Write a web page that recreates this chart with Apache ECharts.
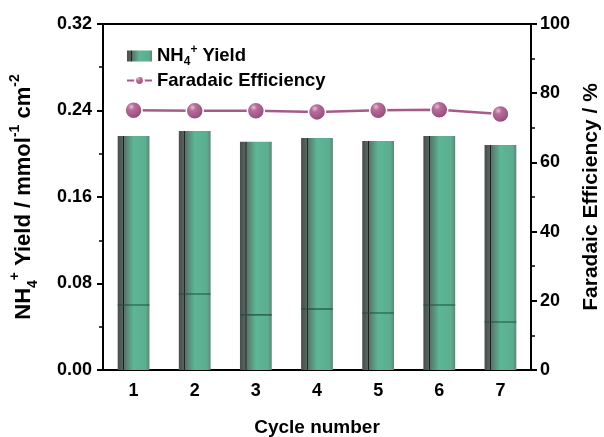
<!DOCTYPE html>
<html>
<head>
<meta charset="utf-8">
<script src="https://cdn.jsdelivr.net/npm/echarts@6/dist/echarts.min.js"></script>
<style>
  html, body { margin: 0; padding: 0; background: #fff; }
  #chart { width: 604px; height: 437px; }
</style>
</head>
<body>
<div id="chart"></div>
<script>
// Cycling stability: NH4+ yield (bars) and Faradaic efficiency (line)
const cycles = ['1', '2', '3', '4', '5', '6', '7'];
const yieldValues = [0.2165, 0.2210, 0.2110, 0.2145, 0.2118, 0.2165, 0.2080];
const yieldInnerLevel = [0.0601, 0.0703, 0.0509, 0.0564, 0.0527, 0.0601, 0.0444];
const feValues = [75.1, 74.9, 74.9, 74.6, 75.1, 75.2, 74.0];
const yieldTicks = [0, 0.08, 0.16, 0.24, 0.32];
const feTicks = [0, 20, 40, 60, 80, 100];

const FONT = '"Liberation Sans", Arial, sans-serif';
const BAR_FRACTION = 0.52;

const barGradient = new echarts.graphic.LinearGradient(0, 0, 1, 0, [
  { offset: 0, color: '#4a4c4c' },
  { offset: 0.17, color: '#566660' },
  { offset: 0.18, color: '#1e1e1e' },
  { offset: 0.2, color: '#1e1e1e' },
  { offset: 0.21, color: '#587468' },
  { offset: 0.5, color: '#5db696' },
  { offset: 0.88, color: '#5cae8f' },
  { offset: 1, color: '#5f8577' }
]);

const ballGradient = new echarts.graphic.RadialGradient(0.38, 0.32, 0.75, [
  { offset: 0, color: '#e7bcd6' },
  { offset: 0.25, color: '#b76d9a' },
  { offset: 0.7, color: '#9c5582' },
  { offset: 1, color: '#864170' }
]);

const axisText = { fontFamily: FONT, fontWeight: 'bold', fontSize: 18, color: '#000' };
function richSet(size, small, lh) {
  const base = { fontFamily: FONT, fontWeight: 'bold', color: '#000', lineHeight: lh };
  return {
    n: Object.assign({ fontSize: size, verticalAlign: 'middle' }, base),
    sup: Object.assign({ fontSize: small, verticalAlign: 'top' }, base),
    sub: Object.assign({ fontSize: small, verticalAlign: 'bottom' }, base)
  };
}

const chart = echarts.init(document.getElementById('chart'), null, { renderer: 'canvas' });

chart.setOption({
  animation: false,
  backgroundColor: '#fff',
  grid: {
    left: 103, right: 73, top: 24, bottom: 67,
    containLabel: false,
    outerBoundsMode: 'none',
    show: true, borderColor: '#000', borderWidth: 2
  },
  legend: {
    orient: 'vertical',
    left: 121, top: 39,
    itemWidth: 25, itemHeight: 11, itemGap: 3,
    textStyle: {
      fontFamily: FONT, fontWeight: 'bold', fontSize: 18, color: '#000',
      rich: richSet(18.5, 12, 24)
    },
    data: [
      { name: 'yield', icon: 'rect' },
      { name: 'fe' }
    ],
    formatter: function (name) {
      return name === 'yield'
        ? '{n|NH}{sub|4}{sup|+}{n| Yield}'
        : '{n|Faradaic Efficiency}';
    }
  },
  xAxis: [
    {
      type: 'category',
      data: cycles,
      position: 'bottom',
      name: 'Cycle number',
      nameLocation: 'middle',
      nameGap: 48,
      nameTextStyle: { fontFamily: FONT, fontWeight: 'bold', fontSize: 19, color: '#000' },
      axisLine: { lineStyle: { color: '#000', width: 2 } },
      axisTick: { alignWithLabel: true, length: 6, inside: false, lineStyle: { color: '#000', width: 2 } },
      axisLabel: Object.assign({ margin: 12 }, axisText),
      splitLine: { show: false }
    },
    {
      type: 'category',
      data: cycles,
      position: 'bottom',
      axisLine: { show: false },
      axisTick: { alignWithLabel: false, length: 3, lineStyle: { color: '#000', width: 2 } },
      axisLabel: { show: false },
      splitLine: { show: false }
    }
  ],
  yAxis: [
    {
      type: 'value',
      min: yieldTicks[0], max: yieldTicks[yieldTicks.length - 1], interval: 0.08,
      position: 'left',
      name: '{n|NH}{sub|4}{sup|+}{n| Yield / mmol}{sup|-1}{n| cm}{sup|-2}',
      nameLocation: 'middle',
      nameRotate: 90,
      nameGap: 63,
      nameTextStyle: { rich: richSet(22, 14, 32) },
      axisLine: { show: true, lineStyle: { color: '#000', width: 2 } },
      axisTick: { show: true, length: 6, lineStyle: { color: '#000', width: 2 } },
      minorTick: { show: true, splitNumber: 2, length: 4, lineStyle: { color: '#000', width: 1.5 } },
      axisLabel: Object.assign({ margin: 11, formatter: v => v.toFixed(2) }, axisText),
      splitLine: { show: false }
    },
    {
      type: 'value',
      min: feTicks[0], max: feTicks[feTicks.length - 1], interval: 20,
      position: 'right',
      name: 'Faradaic Efficiency / %',
      nameLocation: 'middle',
      nameRotate: 90,
      nameGap: 40,
      nameTextStyle: { fontFamily: FONT, fontWeight: 'bold', fontSize: 21, color: '#000' },
      axisLine: { show: true, lineStyle: { color: '#000', width: 2 } },
      axisTick: { show: true, length: 6, lineStyle: { color: '#000', width: 2 } },
      minorTick: { show: true, splitNumber: 2, length: 4, lineStyle: { color: '#000', width: 1.5 } },
      axisLabel: Object.assign({ margin: 9 }, axisText),
      splitLine: { show: false }
    }
  ],
  series: [
    {
      name: 'yield',
      type: 'bar',
      xAxisIndex: 0,
      yAxisIndex: 0,
      barWidth: (BAR_FRACTION * 100) + '%',
      data: yieldValues,
      itemStyle: { color: barGradient },
      z: 2
    },
    {
      // thin level line drawn across each column
      name: 'level',
      type: 'custom',
      xAxisIndex: 0,
      yAxisIndex: 0,
      data: yieldInnerLevel.map((v, i) => [i, v]),
      renderItem: function (params, api) {
        const p = api.coord([api.value(0), api.value(1)]);
        const w = api.size([1, 0])[0] * BAR_FRACTION;
        return {
          type: 'line',
          shape: { x1: p[0] - w / 2, y1: p[1], x2: p[0] + w / 2, y2: p[1] },
          style: { stroke: '#1f4f40', lineWidth: 1.2 }
        };
      },
      z: 3,
      silent: true
    },
    {
      name: 'fe',
      type: 'line',
      xAxisIndex: 0,
      yAxisIndex: 1,
      data: feValues,
      symbol: 'circle',
      symbolSize: 17,
      lineStyle: { color: '#a65a89', width: 2.5 },
      itemStyle: { color: ballGradient, borderColor: '#fff', borderWidth: 1.5 },
      z: 5
    }
  ]
});
</script>
</body>
</html>
